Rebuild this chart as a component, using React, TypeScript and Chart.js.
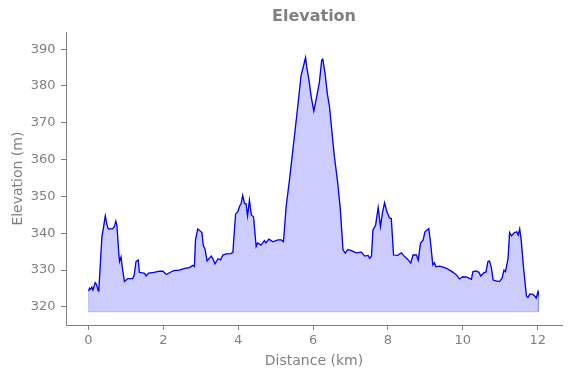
import React, { useEffect, useRef } from "react";
import { Chart, registerables } from "chart.js";

Chart.register(...registerables);

const distanceKm: number[] = [
  0.0, 0.03, 0.06, 0.09, 0.12, 0.18, 0.22, 0.26, 0.28, 0.33, 0.36, 0.4, 0.45, 0.49, 0.53, 0.65, 0.7, 0.73, 0.76,
  0.81, 0.83, 0.87, 0.9, 0.96, 1.05, 1.18, 1.22, 1.27, 1.33, 1.36, 1.5, 1.54, 1.61, 1.75, 1.9, 1.99, 2.08, 2.2,
  2.3, 2.43, 2.57, 2.7, 2.79, 2.83, 2.86, 2.92, 3.03, 3.07, 3.11, 3.17, 3.28, 3.32, 3.38, 3.46, 3.53, 3.59, 3.68,
  3.81, 3.86, 3.88, 3.93, 3.99, 4.04, 4.08, 4.12, 4.17, 4.21, 4.25, 4.3, 4.35, 4.41, 4.48, 4.52, 4.61, 4.7, 4.74,
  4.82, 4.93, 5.06, 5.15, 5.21, 5.28, 5.37, 5.46, 5.55, 5.61, 5.68, 5.75, 5.8, 5.83, 5.89, 5.95, 6.02, 6.07, 6.13,
  6.17, 6.23, 6.26, 6.32, 6.38, 6.44, 6.5, 6.57, 6.66, 6.73, 6.8, 6.86, 6.93, 7.02, 7.15, 7.29, 7.38, 7.47, 7.51,
  7.56, 7.6, 7.67, 7.74, 7.8, 7.86, 7.91, 7.97, 8.04, 8.09, 8.15, 8.26, 8.36, 8.45, 8.53, 8.61, 8.67, 8.76, 8.81,
  8.87, 8.94, 8.99, 9.09, 9.13, 9.2, 9.24, 9.28, 9.37, 9.46, 9.56, 9.65, 9.74, 9.83, 9.91, 10.0, 10.11, 10.23,
  10.27, 10.36, 10.43, 10.48, 10.55, 10.62, 10.67, 10.71, 10.76, 10.81, 10.89, 10.98, 11.05, 11.1, 11.14, 11.21,
  11.25, 11.3, 11.38, 11.44, 11.48, 11.52, 11.56, 11.62, 11.7, 11.74, 11.79, 11.86, 11.92, 11.96, 12.01, 12.02,
];

const elevationM: number[] = [
  324.3, 325.1, 324.8, 325.4, 324.6, 326.6, 326.0, 324.4, 325.0, 334.0, 339.1, 341.5, 344.8, 342.5, 341.2, 341.2,
  342.0, 343.3, 342.2, 334.6, 332.3, 333.6, 331.0, 326.9, 327.7, 327.7, 328.5, 332.3, 332.75, 329.4, 329.1, 328.4,
  329.2, 329.4, 329.7, 329.7, 328.8, 329.5, 329.9, 330.0, 330.5, 330.7, 331.3, 331.0, 338.2, 341.2, 340.2, 336.6,
  335.9, 332.5, 333.8, 333.2, 331.7, 333.1, 332.8, 334.1, 334.4, 334.5, 334.9, 338.2, 345.2, 345.9, 347.4, 348.1,
  350.3, 348.1, 348.0, 344.7, 349.0, 345.0, 344.5, 336.4, 337.4, 336.8, 338.0, 337.4, 338.4, 337.7, 338.2, 338.2,
  337.7, 347.2, 354.5, 362.6, 370.7, 376.2, 382.9, 385.7, 387.7, 385.2, 381.6, 377.1, 373.2, 375.7, 378.9, 381.1,
  387.0, 387.3, 383.4, 378.0, 374.3, 368.0, 360.8, 353.6, 346.3, 335.5, 334.6, 335.6, 335.3, 334.7, 334.9, 333.8,
  334.0, 333.2, 333.8, 340.9, 342.2, 347.0, 341.8, 345.9, 348.3, 345.9, 344.2, 344.0, 334.1, 334.0, 334.7, 333.6,
  332.9, 331.9, 334.1, 334.1, 332.7, 337.3, 338.2, 340.4, 341.3, 338.2, 331.4, 332.0, 330.9, 331.1, 330.9, 330.5,
  330.0, 329.4, 328.7, 327.6, 328.2, 328.1, 327.5, 329.6, 329.8, 329.4, 328.4, 329.2, 329.5, 332.3, 332.5, 330.9,
  327.3, 327.1, 326.9, 327.8, 330.0, 329.6, 333.2, 340.2, 339.3, 340.2, 340.4, 339.5, 341.2, 338.2, 330.9, 323.0,
  322.6, 323.5, 323.5, 323.0, 322.4, 324.2, 323.8,
];

const fillBase = 318.7;
const xTicks: number[] = [0, 2, 4, 6, 8, 10, 12];
const yTicks: number[] = [320, 330, 340, 350, 360, 370, 380, 390];

const GRAY = "#808080";
const FONT = "'DejaVu Sans', sans-serif";

export default function App() {
  const ref = useRef<HTMLCanvasElement | null>(null);

  useEffect(() => {
    const canvas = ref.current;
    if (!canvas) return;
    const pts = distanceKm.map((d, i) => ({ x: d, y: elevationM[i] }));
    const first = distanceKm[0];
    const last = distanceKm[distanceKm.length - 1];
    const areaPts = [{ x: first, y: fillBase }, ...pts, { x: last, y: fillBase }];
    const basePts = [
      { x: first, y: fillBase },
      { x: last, y: fillBase },
    ];

    const chart = new Chart(canvas, {
      type: "line",
      data: {
        datasets: [
          {
            label: "Elevation",
            data: pts,
            borderColor: "#0000ff",
            borderWidth: 1.3,
            pointRadius: 0,
            fill: false,
            tension: 0,
            order: 0,
          },
          {
            label: "area",
            data: areaPts,
            borderColor: "rgba(0,0,255,0.2)",
            backgroundColor: "rgba(0,0,255,0.2)",
            borderWidth: 1,
            pointRadius: 0,
            fill: { value: fillBase },
            tension: 0,
            order: 2,
          },
          {
            label: "base",
            data: basePts,
            borderColor: "rgba(0,0,255,0.2)",
            borderWidth: 1,
            pointRadius: 0,
            fill: false,
            order: 1,
          },
        ],
      },
      options: {
        responsive: false,
        animation: false,
        devicePixelRatio: 1,
        layout: { padding: { left: 0, right: 9, top: 0, bottom: 5 } },
        plugins: {
          legend: { display: false },
          tooltip: { enabled: false },
          title: {
            display: true,
            text: "Elevation",
            color: GRAY,
            fullSize: false,
            font: { family: FONT, size: 16, weight: "bold" },
            padding: { top: 7, bottom: 6 },
          },
        },
        scales: {
          x: {
            type: "linear",
            min: -0.6,
            max: 12.65,
            afterBuildTicks: (s: any) => {
              s.ticks = xTicks.map((v) => ({ value: v }));
            },
            afterFit: (s: any) => {
              s.height = 48;
            },
            ticks: {
              color: GRAY,
              font: { family: FONT, size: 13 },
              padding: 3,
              maxRotation: 0,
              includeBounds: false,
            },
            grid: { drawOnChartArea: false, tickLength: 5, tickColor: GRAY, tickWidth: 1 },
            border: { color: GRAY, width: 1 },
            title: {
              display: true,
              text: "Distance (km)",
              color: GRAY,
              font: { family: FONT, size: 14 },
              padding: { top: 2, bottom: 3 },
            },
          },
          y: {
            type: "linear",
            min: 315.1,
            max: 394.6,
            afterBuildTicks: (s: any) => {
              s.ticks = yTicks.map((v) => ({ value: v }));
            },
            afterFit: (s: any) => {
              s.width = 66;
            },
            ticks: {
              color: GRAY,
              font: { family: FONT, size: 13 },
              padding: 5.5,
              includeBounds: false,
            },
            grid: { drawOnChartArea: false, tickLength: 5, tickColor: GRAY, tickWidth: 1 },
            border: { color: GRAY, width: 1 },
            title: {
              display: true,
              text: "Elevation (m)",
              color: GRAY,
              font: { family: FONT, size: 14 },
              padding: { top: 10, bottom: 4 },
            },
          },
        },
      },
    });
    return () => chart.destroy();
  }, []);

  return (
    <div style={{ position: "fixed", left: 0, top: 0, width: 571, height: 378, background: "#fff" }}>
      <canvas ref={ref} width={571} height={378} style={{ display: "block" }} />
    </div>
  );
}
